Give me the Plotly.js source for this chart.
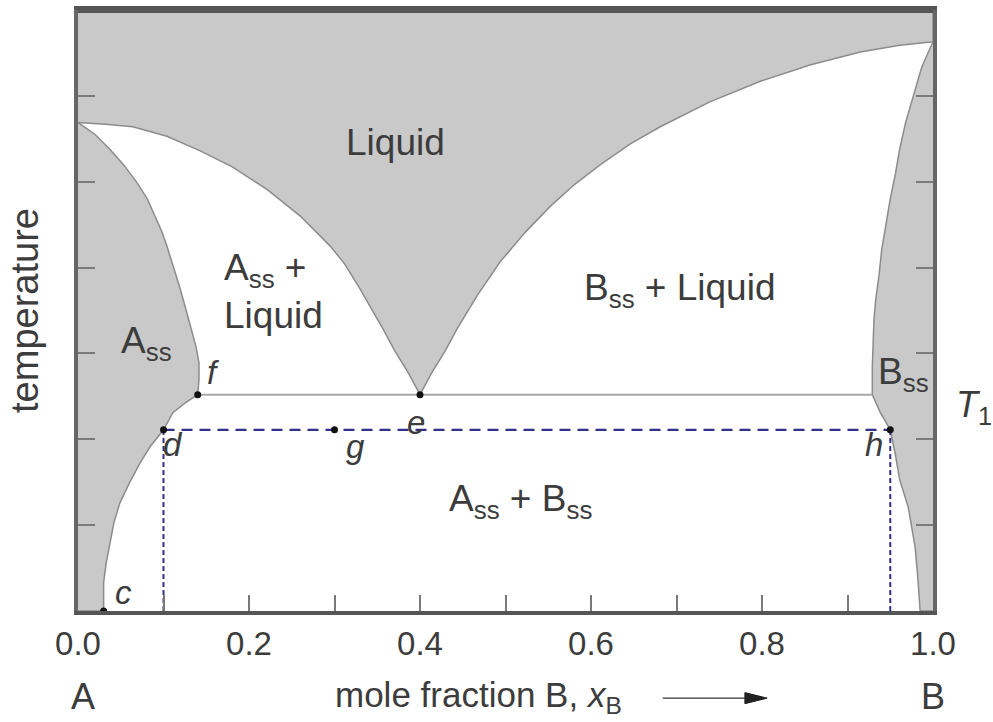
<!DOCTYPE html>
<html>
<head>
<meta charset="utf-8">
<script src="https://cdn.plot.ly/plotly-3.0.1.min.js"></script>
<style>
  html, body { margin: 0; padding: 0; background: #fff; }
  #chart { width: 993px; height: 722px; }
</style>
</head>
<body>
<div id="chart"></div>
<script>
// ---- Data (x = mole fraction B, y = temperature in tick units) ----
// Liquidus, A side: from melting point of A down to eutectic e
const liqAx = [0.000, 0.032, 0.064, 0.104, 0.143, 0.181, 0.221, 0.260, 0.295, 0.312, 0.330, 0.344, 0.357, 0.371, 0.386, 0.400];
const liqAy = [5.69, 5.67, 5.64, 5.53, 5.36, 5.17, 4.91, 4.60, 4.25, 4.04, 3.75, 3.51, 3.28, 3.02, 2.78, 2.52];
// Liquidus, B side: from eutectic e up to melting point of B
const liqBx = [0.400, 0.414, 0.429, 0.443, 0.468, 0.494, 0.523, 0.552, 0.581, 0.611, 0.646, 0.681, 0.739, 0.798, 0.856, 0.915, 0.961, 1.000];
const liqBy = [2.52, 2.78, 3.02, 3.28, 3.69, 4.07, 4.41, 4.71, 4.97, 5.20, 5.44, 5.64, 5.93, 6.17, 6.36, 6.51, 6.59, 6.63];
// Solidus + solvus of A_ss (melting point of A -> f -> d -> c)
const solAx = [0.000, 0.020, 0.037, 0.054, 0.069, 0.081, 0.090, 0.098, 0.104, 0.112, 0.119, 0.126, 0.133, 0.138, 0.1415, 0.1415, 0.140,
               0.125, 0.111, 0.100, 0.084, 0.073, 0.060, 0.049, 0.042, 0.037, 0.033, 0.030, 0.030];
const solAy = [5.69, 5.55, 5.38, 5.19, 4.99, 4.80, 4.60, 4.42, 4.25, 4.00, 3.77, 3.52, 3.28, 3.08, 2.89, 2.70, 2.52,
               2.42, 2.31, 2.11, 1.91, 1.73, 1.49, 1.26, 1.03, 0.79, 0.56, 0.33, 0.00];
// Solidus + solvus of B_ss (melting point of B -> end of eutectic line -> h -> bottom)
const solBx = [1.000, 0.987, 0.977, 0.968, 0.961, 0.956, 0.950, 0.945, 0.940, 0.937, 0.933, 0.931, 0.930, 0.929, 0.929,
               0.938, 0.950, 0.956, 0.961, 0.971, 0.975, 0.979, 0.982, 0.985];
const solBy = [6.63, 6.34, 6.00, 5.69, 5.38, 5.09, 4.80, 4.50, 4.21, 3.92, 3.63, 3.40, 3.16, 2.84, 2.52,
               2.32, 2.11, 1.82, 1.53, 1.21, 0.98, 0.75, 0.42, 0.00];
// Eutectic tie line at T1
const eutX = [0.14, 0.929];
const eutY = [2.52, 2.52];
// Labelled points
const ptNames = ['c', 'd', 'f', 'e', 'g', 'h'];
const ptX = [0.030, 0.100, 0.140, 0.400, 0.300, 0.950];
const ptY = [0.00, 2.11, 2.52, 2.52, 2.11, 2.11];
// Dashed construction lines through d, g, h
const tieX = [0.100, 0.950];
const tieY = [2.11, 2.11];
const dropDx = [0.100, 0.100];
const dropHx = [0.950, 0.950];
const dropY = [0.00, 2.11];
// Axis ticks
const xTickVals = [0.0, 0.2, 0.4, 0.6, 0.8, 1.0];
const xTickText = ['0.0', '0.2', '0.4', '0.6', '0.8', '1.0'];
const yMax = 7;

// ---- Styles ----
const GREY = '#c9c9c9';
const EDGE = '#8c8c8c';
const TXT = '#3c3c3c';
const BLUE = '#2f2f8c';
const FONT = 'Liberation Sans, Arial, Helvetica, sans-serif';

const liqFillX = [].concat(liqAx, liqBx.slice(1), [1, 0]);
const liqFillY = [].concat(liqAy, liqBy.slice(1), [yMax, yMax]);
const aFillX = [].concat(solAx, [0]);
const aFillY = [].concat(solAy, [0]);
const bFillX = [].concat(solBx, [1]);
const bFillY = [].concat(solBy, [0]);

const traces = [
  {x: liqFillX, y: liqFillY, mode: 'lines', fill: 'toself', fillcolor: GREY,
   line: {color: EDGE, width: 1.5}, hoverinfo: 'skip', name: 'Liquid'},
  {x: aFillX, y: aFillY, mode: 'lines', fill: 'toself', fillcolor: GREY,
   line: {color: EDGE, width: 1.5}, hoverinfo: 'skip', name: 'A_ss'},
  {x: bFillX, y: bFillY, mode: 'lines', fill: 'toself', fillcolor: GREY,
   line: {color: EDGE, width: 1.5}, hoverinfo: 'skip', name: 'B_ss'},
  {x: eutX, y: eutY, mode: 'lines', line: {color: '#a8a8a8', width: 2}, hoverinfo: 'skip', name: 'T1'},
  {x: tieX, y: tieY, mode: 'lines', line: {color: BLUE, width: 2.2, dash: '11px,7px'}, hoverinfo: 'skip', name: 'tie'},
  {x: dropDx, y: dropY, mode: 'lines', line: {color: BLUE, width: 2, dash: '5px,3px'}, hoverinfo: 'skip', name: 'd drop'},
  {x: dropHx, y: dropY, mode: 'lines', line: {color: BLUE, width: 2, dash: '5px,3px'}, hoverinfo: 'skip', name: 'h drop'},
  {x: ptX, y: ptY, text: ptNames, mode: 'markers', marker: {color: '#111', size: 7},
   cliponaxis: false, hoverinfo: 'text', name: 'points'}
];

function lab(text, x, y, size, opts) {
  return Object.assign({text: text, x: x, y: y, xref: 'x', yref: 'y', showarrow: false,
    font: {family: FONT, size: size, color: TXT}, xanchor: 'center', yanchor: 'middle'}, opts || {});
}

const annotations = [
  lab('Liquid', 0.371, 5.46, 37),
  lab('A<sub>ss</sub> +<br>Liquid', 0.168, 3.72, 37, {xanchor: 'left', align: 'left'}),
  lab('B<sub>ss</sub> + Liquid', 0.704, 3.74, 37),
  lab('A<sub>ss</sub> + B<sub>ss</sub>', 0.518, 1.28, 37),
  lab('A<sub>ss</sub>', 0.080, 3.12, 37),
  lab('B<sub>ss</sub>', 0.965, 2.76, 37),
  lab('<i>T</i><sub>1</sub>', 1.048, 0.34, 36, {xref: 'paper', yref: 'paper'}),
  lab('<i>f</i>', 0.158, 2.78, 33),
  lab('<i>e</i>', 0.395, 2.20, 33),
  lab('<i>g</i>', 0.325, 1.92, 33),
  lab('<i>d</i>', 0.111, 1.94, 33),
  lab('<i>h</i>', 0.931, 1.94, 33),
  lab('<i>c</i>', 0.053, 0.22, 33),
  lab('A', 0.006, -0.143, 36, {xref: 'paper', yref: 'paper'}),
  lab('B', 1.000, -0.143, 36, {xref: 'paper', yref: 'paper'}),
  lab('mole fraction B, <i>x</i><sub>B</sub>', 0.468, -0.143, 35, {xref: 'paper', yref: 'paper'})
];

const layout = {
  width: 993, height: 722,
  margin: {l: 78, r: 60, t: 10, b: 111, pad: 0},
  paper_bgcolor: '#fff', plot_bgcolor: '#fff',
  showlegend: false,
  font: {family: FONT, color: TXT, size: 33},
  xaxis: {
    range: [0, 1], tickvals: xTickVals, ticktext: xTickText,
    ticks: 'inside', ticklen: 16, tickwidth: 2, tickcolor: '#7a7a7a',
    minor: {dtick: 0.1, tick0: 0, ticks: 'inside', ticklen: 16, tickwidth: 2, tickcolor: '#7a7a7a', showgrid: false},
    showgrid: false, zeroline: false,
    showline: true, linecolor: '#555', linewidth: 4, mirror: true,
    tickfont: {family: FONT, size: 33, color: TXT},
    fixedrange: true
  },
  yaxis: {
    range: [0, yMax], dtick: 1, tick0: 0,
    ticks: 'inside', ticklen: 17, tickwidth: 2, tickcolor: '#7a7a7a',
    showticklabels: false, showgrid: false, zeroline: false,
    showline: true, linecolor: '#666', linewidth: 4, mirror: 'ticks',
    title: {text: 'temperature', font: {family: FONT, size: 38, color: TXT}, standoff: 25},
    fixedrange: true
  },
  shapes: [
    {type: 'line', xref: 'paper', yref: 'paper', x0: 0, x1: 1, y0: 1, y1: 1,
     line: {color: '#555', width: 6}},
    // arrow next to the x label: shaft and filled head
    {type: 'line', xref: 'paper', yref: 'paper', x0: 0.684, x1: 0.785, y0: -0.145, y1: -0.145,
     line: {color: '#333', width: 1.4}},
    {type: 'path', xref: 'paper', yref: 'paper', path: 'M 0.780 -0.1358 L 0.806 -0.145 L 0.780 -0.1542 Z',
     fillcolor: '#222', line: {color: '#222', width: 1}}
  ],
  annotations: annotations
};

Plotly.newPlot('chart', traces, layout, {displayModeBar: false});
</script>
</body>
</html>
